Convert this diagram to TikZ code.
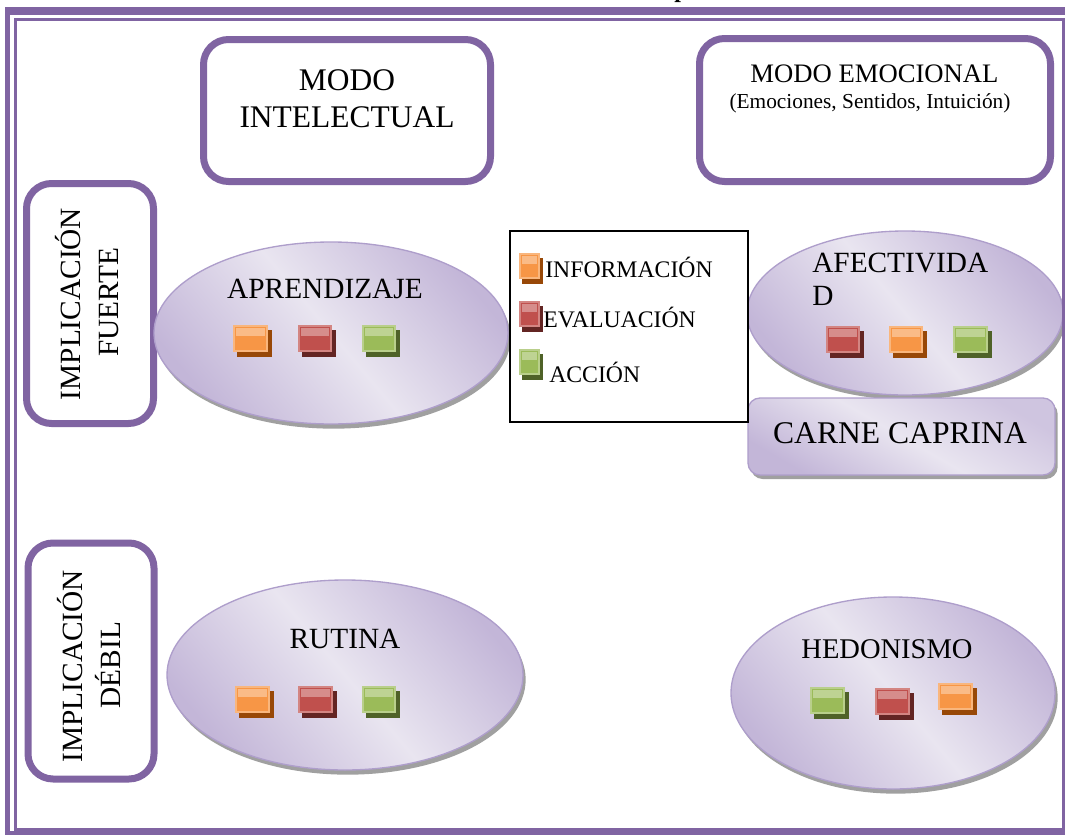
\documentclass[tikz,border=0pt]{standalone}
\usepackage{fontspec}
\setmainfont{Liberation Serif}
\usetikzlibrary{shapes.geometric,shadows}
\definecolor{framec}{HTML}{8064A2}
\definecolor{lavmid}{HTML}{E9E5F0}
\definecolor{lavout}{HTML}{C3B6D8}
\definecolor{lavedge}{HTML}{AE9ECB}
\definecolor{shad}{HTML}{A0A0A0}
\definecolor{orf}{HTML}{F79646}\definecolor{orb}{HTML}{984807}
\definecolor{rdf}{HTML}{C0504D}\definecolor{rdb}{HTML}{632523}
\definecolor{grf}{HTML}{9BBB59}\definecolor{grb}{HTML}{4F6228}
\newcommand{\glsq}[6]{%
  \fill[#6] ({#1+4},{#2+5}) rectangle ++(#3,#4);
  \fill[#5!70!white] (#1,#2) rectangle ++(#3,#4);
  \fill[#5] ({#1+2},{#2+2}) rectangle ({#1+#3-2},{#2+#4-2});
  \fill[#5!65!white] ({#1+3},{#2+3}) rectangle ({#1+#3-3},{#2+#4*0.42});
}
\newcommand{\glsqs}[6]{%
  \fill[#6] ({#1+3},{#2+5}) rectangle ++(#3,#4);
  \fill[#5!70!white] (#1,#2) rectangle ++(#3,#4);
  \fill[#5] ({#1+2},{#2+2}) rectangle ({#1+#3-2},{#2+#4-2});
  \fill[#5!65!white] ({#1+3},{#2+3}) rectangle ({#1+#3-3},{#2+#4*0.42});
}
\tikzset{
  modebox/.style={draw=framec, line width=5.25pt, rounded corners=18.75pt, fill=white, inner sep=0pt},
  lavshade/.style={top color=lavout, bottom color=lavout, middle color=lavmid, shading angle=-50},
  ell/.style={ellipse, draw=lavedge, line width=1pt, lavshade,
    drop shadow={shadow xshift=2pt, shadow yshift=-3.5pt, fill=shad, opacity=1}, inner sep=0pt},
  bigtxt/.style={anchor=base, font=\fontsize{22}{26}\selectfont},
  legtxt/.style={anchor=base west, font=\fontsize{17.8}{20}\selectfont},
}
\begin{document}
\begin{tikzpicture}[x=0.75pt, y=-0.75pt]
\useasboundingbox (0,0) rectangle (1065,835);
\fill[white] (0,0) rectangle (1065,835);

% title fragment
\node[anchor=base west, inner sep=0pt, font=\bfseries\fontsize{18}{20}\selectfont] (title) at (674,-2.5) {p};

% mode boxes
\node[modebox, minimum width=215.25pt, minimum height=106.5pt] (mi) at (347,110.5) {};
\node[anchor=base, font=\fontsize{23.6}{28}\selectfont] (mit1) at (347,90) {MODO};
\node[anchor=base, font=\fontsize{23.6}{28}\selectfont] (mit2) at (347,127) {INTELECTUAL};

\node[modebox, minimum width=263.25pt, minimum height=107.25pt] (me) at (875,110) {};
\node[anchor=base, font=\fontsize{20}{24}\selectfont] (met1) at (874.5,82) {MODO EMOCIONAL};
\node[anchor=base, font=\fontsize{16}{19}\selectfont] (met2) at (870,108) {(Emociones, Sentidos, Intuición)};

% implication boxes
\node[modebox, minimum width=95.25pt, minimum height=180pt] (if) at (90,303.5) {};
\node[bigtxt, rotate=90] (ift1) at (80,304) {IMPLICACIÓN};
\node[bigtxt, rotate=90] (ift2) at (118,302) {FUERTE};

\node[modebox, minimum width=94.5pt, minimum height=177pt] (id) at (91,661) {};
\node[bigtxt, rotate=90] (idt1) at (82,666) {IMPLICACIÓN};
\node[bigtxt, rotate=90] (idt2) at (120,665) {DÉBIL};

% ellipses
\node[ell, minimum width=265.5pt, minimum height=136.5pt] (apr) at (331,333) {};
\node[bigtxt] (aprt) at (325,298) {APRENDIZAJE};
\glsq{233}{325}{35}{27}{orf}{orb}
\glsq{298}{325}{34}{27}{rdf}{rdb}
\glsq{362}{325}{34}{27}{grf}{grb}

\node[ell, minimum width=267pt, minimum height=142.5pt] (rut) at (345,675) {};
\node[bigtxt] (rutt) at (345,648) {RUTINA};
\glsq{235}{686}{35}{27}{orf}{orb}
\glsq{298}{686}{35}{27}{rdf}{rdb}
\glsq{362}{686}{34}{27}{grf}{grb}

\node[ell, minimum width=237pt, minimum height=123pt] (afe) at (905,313) {};
\node[anchor=base west, inner sep=0pt, font=\fontsize{22}{26}\selectfont] (afet1) at (812,272) {AFECTIVIDA};
\node[anchor=base west, inner sep=0pt, font=\fontsize{22}{26}\selectfont] (afet2) at (812,305) {D};
\glsq{826}{326}{34}{27}{rdf}{rdb}
\glsq{889}{326}{34}{27}{orf}{orb}
\glsq{953}{326}{35}{27}{grf}{grb}

\node[ell, minimum width=243pt, minimum height=144pt] (hed) at (893,693) {};
\node[bigtxt, font=\fontsize{21.4}{25}\selectfont] (hedt) at (887,658) {HEDONISMO};
\glsq{810}{687}{35}{27}{grf}{grb}
\glsq{875}{688}{35}{27}{rdf}{rdb}
\glsq{938}{683}{35}{27}{orf}{orb}

% carne caprina
\node[draw=lavedge, line width=1pt, rounded corners=9pt, top color=lavout!80!white, bottom color=lavout, middle color=lavmid, shading angle=-30,
  drop shadow={shadow xshift=2pt, shadow yshift=-3pt, fill=shad, opacity=1},
  minimum width=230.25pt, minimum height=57.75pt, inner sep=0pt] (cc) at (901.5,436.5) {};
\node[anchor=base, font=\fontsize{23.7}{28}\selectfont] (cct) at (900,443) {CARNE CAPRINA};

% legend
\node[draw=black, line width=1.5pt, fill=white, minimum width=178.5pt, minimum height=143.6pt, inner sep=0pt] (leg) at (628.5,326.25) {};
\glsqs{519}{253}{21}{26}{orf}{orb}
\glsqs{519}{301}{21}{26}{rdf}{rdb}
\glsqs{519}{349}{21}{26}{grf}{grb}
\node[legtxt, inner sep=0pt] (l1) at (545,277) {INFORMACIÓN};
\node[legtxt, inner sep=0pt] (l2) at (543,327) {EVALUACIÓN};
\node[legtxt, inner sep=0pt] (l3) at (549,382) {ACCIÓN};

% page frame
\draw[framec, line width=3.75pt] (7.5,11) rectangle (1072,833.5);
\draw[framec, line width=6pt] (5,11) -- (1072,11);
\draw[framec, line width=2.25pt] (15.5,19.5) rectangle (1063,829);
\end{tikzpicture}
\end{document}
